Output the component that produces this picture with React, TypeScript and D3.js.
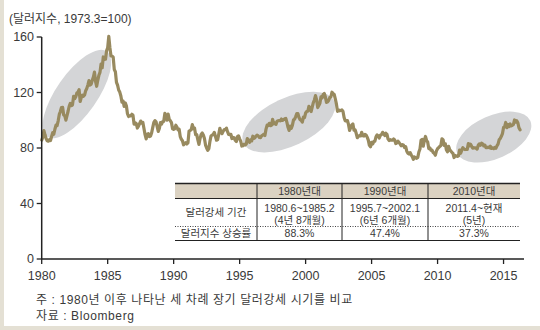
import React from "react";
import * as d3 from "d3";

const W = 540;
const H = 330;

// Monthly dollar index (1973.3 = 100), starting January 1980
const startYear = 1980;
const dollarIndex: number[] = [
  // 1980
  85.7, 87.8, 92.5, 89.5, 86.8, 85.2, 84.9, 86.0, 85.4, 88.3, 91.0, 89.9,
  // 1981
  93.5, 96.4, 96.1, 99.6, 104.2, 106.3, 109.2, 109.3, 103.8, 103.2, 100.1, 103.4,
  // 1982
  106.5, 110.1, 112.1, 110.5, 111.1, 117.2, 115.6, 117.0, 119.6, 120.3, 122.0, 113.5,
  // 1983
  116.5, 118.0, 117.3, 118.2, 121.3, 122.9, 125.5, 128.6, 125.4, 126.0, 128.8, 131.1,
  // 1984
  134.7, 127.8, 124.5, 128.8, 132.4, 134.5, 140.5, 137.8, 145.6, 143.9, 144.0, 150.0,
  // 1985
  152.2, 160.5, 152.5, 146.3, 146.3, 145.5, 136.6, 135.0, 127.3, 125.3, 121.8, 120.3,
  // 1986
  117.5, 113.0, 113.9, 110.0, 112.5, 110.4, 104.7, 102.7, 103.2, 103.1, 104.3, 103.6,
  // 1987
  97.2, 98.2, 97.6, 94.4, 95.7, 97.6, 99.4, 97.9, 98.4, 94.1, 89.6, 86.6,
  // 1988
  89.9, 90.3, 88.2, 88.6, 91.0, 94.9, 98.5, 99.7, 98.9, 95.4, 92.0, 94.1,
  // 1989
  98.3, 97.2, 98.9, 99.3, 104.9, 103.6, 100.0, 104.4, 100.7, 99.7, 98.3, 93.9,
  // 1990
  93.5, 93.9, 96.4, 95.1, 93.0, 93.5, 88.2, 86.3, 85.2, 82.3, 83.1, 83.9,
  // 1991
  82.9, 83.7, 92.1, 92.6, 93.3, 96.9, 94.0, 94.3, 89.6, 89.6, 85.9, 82.6,
  // 1992
  86.8, 89.8, 90.8, 89.4, 86.8, 82.1, 80.0, 78.3, 79.5, 84.8, 88.7, 89.3,
  // 1993
  89.7, 91.3, 88.4, 85.6, 86.0, 89.9, 94.2, 91.7, 90.4, 92.1, 93.2, 93.2,
  // 1994
  94.3, 91.8, 89.8, 89.7, 89.9, 86.8, 87.6, 87.3, 85.6, 84.6, 88.2, 88.7,
  // 1995
  86.6, 84.9, 81.4, 81.6, 82.7, 82.1, 82.8, 86.8, 85.6, 84.1, 85.8, 85.1,
  // 1996
  88.5, 86.9, 87.6, 88.7, 89.3, 88.6, 87.6, 87.5, 88.8, 89.3, 89.9, 89.0,
  // 1997
  93.6, 96.5, 96.2, 97.8, 96.1, 96.4, 100.6, 97.4, 98.1, 97.0, 99.3, 99.6,
  // 1998
  99.8, 99.6, 100.9, 99.9, 100.5, 101.0, 101.3, 98.5, 94.9, 92.7, 95.7, 94.2,
  // 1999
  96.5, 100.3, 100.8, 102.6, 104.8, 104.8, 101.9, 100.4, 99.9, 98.7, 102.3, 101.9,
  // 2000
  105.2, 106.3, 106.5, 110.0, 108.7, 106.3, 109.5, 112.7, 114.6, 117.8, 114.7, 109.1,
  // 2001
  110.6, 112.2, 116.9, 116.1, 118.6, 119.3, 116.7, 112.9, 113.2, 114.4, 116.4, 116.8,
  // 2002
  120.2, 119.2, 118.7, 115.4, 111.8, 106.4, 107.5, 106.8, 107.0, 107.4, 106.3, 102.0,
  // 2003
  99.6, 99.6, 99.8, 97.0, 92.7, 94.6, 96.6, 97.3, 92.8, 93.1, 90.6, 87.4,
  // 2004
  88.5, 89.0, 88.7, 91.3, 88.8, 88.6, 89.8, 89.3, 87.8, 85.7, 81.9, 80.9,
  // 2005
  84.1, 82.9, 84.6, 84.9, 88.1, 89.4, 88.8, 87.2, 89.2, 89.6, 91.3, 90.3,
  // 2006
  89.0, 90.6, 89.8, 86.4, 85.4, 86.0, 85.6, 85.6, 86.5, 85.8, 83.2, 83.7,
  // 2007
  84.9, 83.9, 82.8, 81.6, 82.5, 82.0, 80.4, 80.9, 77.7, 76.3, 75.7, 76.7,
  // 2008
  75.1, 73.8, 71.8, 73.5, 73.0, 72.6, 73.2, 77.1, 79.3, 85.7, 86.1, 81.3,
  // 2009
  85.6, 88.3, 85.4, 84.4, 79.6, 80.1, 78.4, 78.4, 76.8, 76.1, 74.8, 77.9,
  // 2010
  79.5, 80.3, 81.1, 81.8, 86.6, 86.0, 81.9, 83.2, 78.8, 77.3, 81.2, 79.0,
  // 2011
  77.8, 76.9, 76.1, 73.1, 74.6, 74.3, 74.0, 74.2, 78.5, 76.2, 78.4, 80.2,
  // 2012
  79.2, 78.9, 79.0, 79.0, 83.2, 81.6, 82.7, 81.2, 79.9, 80.2, 80.1, 79.8,
  // 2013
  79.2, 82.0, 83.0, 82.0, 83.4, 83.0, 81.5, 82.1, 80.2, 80.2, 80.7, 80.2,
  // 2014
  81.3, 79.7, 80.1, 79.5, 80.4, 79.8, 81.5, 82.8, 85.9, 86.9, 88.4, 90.3,
  // 2015
  94.8, 95.3, 98.4, 94.6, 96.9, 95.5, 97.3, 96.0, 96.4, 97.0, 100.2, 98.6,
  // 2016
  99.6, 98.2, 94.6, 93.1,
];

const yTicks = [0, 40, 80, 120, 160];
const xTicks = [1980, 1985, 1990, 1995, 2000, 2005, 2010, 2015];

// highlighted strong-dollar periods: centre (year, index value)
const highlightYears = [1982.67, 1998.73, 2014.26];
const highlightValues = [118.9, 98.7, 87.9];

// table contents
const decades = ["1980년대", "1990년대", "2010년대"];
const periodRanges = ["1980.6~1985.2", "1995.7~2002.1", "2011.4~현재"];
const periodLengths = ["(4년 8개월)", "(6년 6개월)", "(5년)"];
const gains = ["88.3%", "47.4%", "37.3%"];
const rowLabels = ["달러강세 기간", "달러지수 상승률"];

const title = "(달러지수, 1973.3=100)";
const notes = ["주 : 1980년 이후 나타난 세 차례 장기 달러강세 시기를 비교", "자료 : Bloomberg"];

// styles
const FONT = '"Liberation Sans", "Noto Sans CJK KR", sans-serif';
const TEXT = "#3a3a3a";
const LINE = "#988a5f";
const ELLIPSE = "#d4d5d7";
const HEADER = "#dbd2c2";
const FRAME = "#e4e0d4";
const ellipseShapes = [
  { rx: 52, ry: 20.5, rot: -55 },
  { rx: 50, ry: 24, rot: -25 },
  { rx: 40, ry: 21.5, rot: -24 },
];

export default function App() {
  const x = d3.scaleLinear().domain([1980, 2016.55]).range([41.7, 524]);
  const y = d3.scaleLinear().domain([0, 160]).range([259, 37]);

  const line = d3
    .line<number>()
    .x((_, i) => x(startYear + i / 12))
    .y((d) => y(d));

  const colEdges = [175, 257, 342, 428, 520];
  const rows = { top: 183.5, head: 198.5, mid: 226.5, bottom: 240.5 };
  const tableFont = 10.5;

  return (
    <svg
      width={W}
      height={H}
      style={{ position: "absolute", left: 0, top: 0, background: "#ffffff" }}
      fontFamily={FONT}
    >
      <rect x={0} y={0} width={W} height={H} fill="#ffffff" />
      <rect x={0} y={0} width={4} height={H} fill={FRAME} />
      <rect x={0} y={H - 4} width={W} height={4} fill={FRAME} />

      <text x={9} y={23} fontSize={12} fill={TEXT}>
        {title}
      </text>

      {highlightYears.map((yr, i) => (
        <ellipse
          key={i}
          cx={0}
          cy={0}
          rx={ellipseShapes[i].rx}
          ry={ellipseShapes[i].ry}
          fill={ELLIPSE}
          transform={`translate(${x(yr)},${y(highlightValues[i])}) rotate(${ellipseShapes[i].rot})`}
        />
      ))}

      <path
        d={line(dollarIndex) || ""}
        fill="none"
        stroke={LINE}
        strokeWidth={3.2}
        strokeLinejoin="round"
        strokeLinecap="round"
      />

      {/* table */}
      <g>
        <rect x={colEdges[0]} y={rows.top} width={colEdges[4] - colEdges[0]} height={rows.bottom - rows.top} fill="#ffffff" />
        <rect x={colEdges[0]} y={rows.top} width={colEdges[4] - colEdges[0]} height={rows.head - rows.top} fill={HEADER} />
        <line x1={colEdges[0]} x2={colEdges[4]} y1={rows.top} y2={rows.top} stroke="#222" strokeWidth={1.4} />
        <line x1={colEdges[0]} x2={colEdges[4]} y1={rows.head} y2={rows.head} stroke="#222" strokeWidth={1.1} />
        <line
          x1={colEdges[0]}
          x2={colEdges[4]}
          y1={rows.mid}
          y2={rows.mid}
          stroke="#444"
          strokeWidth={1}
          strokeDasharray="1 1.5"
        />
        <line x1={colEdges[0]} x2={colEdges[4]} y1={rows.bottom} y2={rows.bottom} stroke="#222" strokeWidth={1.2} />
        {colEdges.slice(1, 4).map((cx, i) => (
          <line key={i} x1={cx} x2={cx} y1={rows.top} y2={rows.bottom} stroke="#222" strokeWidth={1} />
        ))}
        {decades.map((d, i) => (
          <text
            key={d}
            x={(colEdges[i + 1] + colEdges[i + 2]) / 2}
            y={(rows.top + rows.head) / 2}
            dy="0.35em"
            textAnchor="middle"
            fontSize={tableFont}
            fill={TEXT}
          >
            {d}
          </text>
        ))}
        {rowLabels.map((lab, i) => (
          <text
            key={lab}
            x={(colEdges[0] + colEdges[1]) / 2}
            y={i === 0 ? (rows.head + rows.mid) / 2 : (rows.mid + rows.bottom) / 2}
            dy="0.35em"
            textAnchor="middle"
            fontSize={tableFont}
            fill={TEXT}
          >
            {lab}
          </text>
        ))}
        {periodRanges.map((p, i) => (
          <g key={p}>
            <text
              x={(colEdges[i + 1] + colEdges[i + 2]) / 2}
              y={208.6}
              dy="0.35em"
              textAnchor="middle"
              fontSize={10.5}
              fill={TEXT}
            >
              {p}
            </text>
            <text
              x={(colEdges[i + 1] + colEdges[i + 2]) / 2}
              y={220.3}
              dy="0.35em"
              textAnchor="middle"
              fontSize={10.5}
              fill={TEXT}
            >
              {periodLengths[i]}
            </text>
            <text
              x={(colEdges[i + 1] + colEdges[i + 2]) / 2}
              y={(rows.mid + rows.bottom) / 2}
              dy="0.35em"
              textAnchor="middle"
              fontSize={tableFont}
              fill={TEXT}
            >
              {gains[i]}
            </text>
          </g>
        ))}
      </g>

      {/* axes */}
      <line x1={x(1980)} x2={x(1980)} y1={y(160)} y2={y(0)} stroke="#222" strokeWidth={1.5} />
      <line x1={x(1980)} x2={x.range()[1]} y1={y(0)} y2={y(0)} stroke="#222" strokeWidth={1.5} />
      {yTicks.map((t) => (
        <g key={t}>
          <line x1={x(1980) - 5} x2={x(1980)} y1={y(t)} y2={y(t)} stroke="#222" strokeWidth={1.3} />
          <text x={34} y={y(t)} dy="0.35em" textAnchor="end" fontSize={12.5} fill={TEXT}>
            {t}
          </text>
        </g>
      ))}
      {xTicks.map((t) => (
        <g key={t}>
          <line x1={x(t)} x2={x(t)} y1={y(0)} y2={y(0) + 5} stroke="#222" strokeWidth={1.3} />
          <text x={x(t)} y={279.5} textAnchor="middle" fontSize={12.5} fill={TEXT}>
            {t}
          </text>
        </g>
      ))}

      {notes.map((n, i) => (
        <text key={i} x={36} y={303.5 + i * 16.5} fontSize={12} letterSpacing={0.6} fill={TEXT}>
          {n}
        </text>
      ))}
    </svg>
  );
}
